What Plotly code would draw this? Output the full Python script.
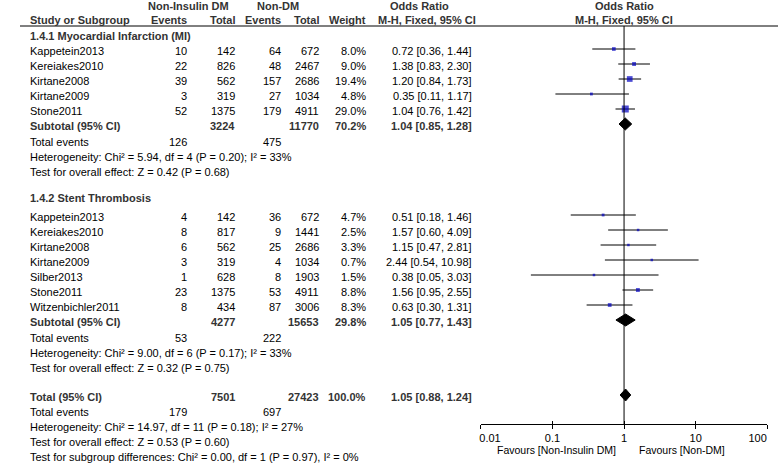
import math
import plotly.graph_objects as go

# ---------------- data ----------------
mi_studies = ["Kappetein2013", "Kereiakes2010", "Kirtane2008", "Kirtane2009", "Stone2011"]
mi_ev_ni = [10, 22, 39, 3, 52]
mi_tot_ni = [142, 826, 562, 319, 1375]
mi_ev_nd = [64, 48, 157, 27, 179]
mi_tot_nd = [672, 2467, 2686, 1034, 4911]
mi_weight = [8.0, 9.0, 19.4, 4.8, 29.0]
mi_or = [0.72, 1.38, 1.20, 0.35, 1.04]
mi_lo = [0.36, 0.83, 0.84, 0.11, 0.76]
mi_hi = [1.44, 2.30, 1.73, 1.17, 1.42]
mi_sub_totals = [3224, 11770]
mi_sub_weight = 70.2
mi_sub_or = [1.04, 0.85, 1.28]
mi_events = [126, 475]
mi_het = "Heterogeneity: Chi² = 5.94, df = 4 (P = 0.20); I² = 33%"
mi_test = "Test for overall effect: Z = 0.42 (P = 0.68)"

st_studies = ["Kappetein2013", "Kereiakes2010", "Kirtane2008", "Kirtane2009",
              "Silber2013", "Stone2011", "Witzenbichler2011"]
st_ev_ni = [4, 8, 6, 3, 1, 23, 8]
st_tot_ni = [142, 817, 562, 319, 628, 1375, 434]
st_ev_nd = [36, 9, 25, 4, 8, 53, 87]
st_tot_nd = [672, 1441, 2686, 1034, 1903, 4911, 3006]
st_weight = [4.7, 2.5, 3.3, 0.7, 1.5, 8.8, 8.3]
st_or = [0.51, 1.57, 1.15, 2.44, 0.38, 1.56, 0.63]
st_lo = [0.18, 0.60, 0.47, 0.54, 0.05, 0.95, 0.30]
st_hi = [1.46, 4.09, 2.81, 10.98, 3.03, 2.55, 1.31]
st_sub_totals = [4277, 15653]
st_sub_weight = 29.8
st_sub_or = [1.05, 0.77, 1.43]
st_events = [53, 222]
st_het = "Heterogeneity: Chi² = 9.00, df = 6 (P = 0.17); I² = 33%"
st_test = "Test for overall effect: Z = 0.32 (P = 0.75)"

tot_totals = [7501, 27423]
tot_weight = 100.0
tot_or = [1.05, 0.88, 1.24]
tot_events = [179, 697]
tot_het = "Heterogeneity: Chi² = 14.97, df = 11 (P = 0.18); I² = 27%"
tot_test = "Test for overall effect: Z = 0.53 (P = 0.60)"
tot_sub = "Test for subgroup differences: Chi² = 0.00, df = 1 (P = 0.97), I² = 0%"

tick_vals = [0.01, 0.1, 1, 10, 100]
tick_text = ["0.01", "0.1", "1", "10", "100"]
favours_left = "Favours [Non-Insulin DM]"
favours_right = "Favours [Non-DM]"

# ---------------- layout constants ----------------
W, H = 778, 465
FONT = "Liberation Sans, Arial, Helvetica, sans-serif"
BLUE = "#0000c0"
BOLD_C = "#333333"
X_NAME = 10
X_EV1, X_TOT1, X_EV2, X_TOT2, X_WT, X_OR = 171, 221, 268, 307, 355, 464
X_PLOT0, X_PLOT1 = 473, 767
AXIS_Y = 424
RULE_Y = 26
PITCH = 15
TXT_DY = 2

ann = []


def t(x, y, s, anchor="left", bold=False, color="black", size=11):
    if bold:
        s = f"<b>{s}</b>"
        color = BOLD_C
    ann.append(dict(x=x / W, y=y, xref="paper", yref="y", text=s, showarrow=False,
                    xanchor=anchor, yanchor="middle", borderpad=0, borderwidth=0,
                    font=dict(family=FONT, size=size, color=color)))


def fmt_or(v):
    return f"{v[0]:.2f} [{v[1]:.2f}, {v[2]:.2f}]"


fig = go.Figure()


def add_section(names, ev1, tot1, ev2, tot2, wts, ors, los, his, y0):
    ys = [y0 + PITCH * i for i in range(len(names))]
    for i, y in enumerate(ys):
        ty = y + TXT_DY
        t(X_NAME, ty, names[i])
        t(X_EV1, ty, str(ev1[i]), "right")
        t(X_TOT1, ty, str(tot1[i]), "right")
        t(X_EV2, ty, str(ev2[i]), "right")
        t(X_TOT2, ty, str(tot2[i]), "right")
        t(X_WT, ty, f"{wts[i]:.1f}%", "right")
        t(X_OR, ty, fmt_or([ors[i], los[i], his[i]]), "right")
    lx, ly = [], []
    for lo, hi, y in zip(los, his, ys):
        lx += [lo, hi, None]
        ly += [y, y, None]
    fig.add_trace(go.Scatter(x=lx, y=ly, mode="lines", line=dict(color="black", width=1),
                             hoverinfo="skip", showlegend=False))
    fig.add_trace(go.Scatter(x=ors, y=ys, mode="markers",
                             marker=dict(symbol="square", color=BLUE,
                                         size=[max(2.5, 1.3 * math.sqrt(w)) for w in wts],
                                         line=dict(width=0)),
                             hoverinfo="skip", showlegend=False))
    return ys[-1]


def add_diamond(v, y, h=6):
    fig.add_trace(go.Scatter(x=[v[1], v[0], v[2], v[0], v[1]], y=[y, y - h, y, y + h, y],
                             mode="lines", fill="toself", fillcolor="black",
                             line=dict(color="black", width=1), hoverinfo="skip", showlegend=False))


def add_summary(label, totals, weight, orv, y):
    ty = y + TXT_DY
    t(X_NAME, ty, label, bold=True)
    t(X_TOT1, ty, str(totals[0]), "right", bold=True)
    t(X_TOT2, ty, str(totals[1]), "right", bold=True)
    t(X_WT, ty, f"{weight:.1f}%", "right", bold=True)
    t(X_OR, ty, fmt_or(orv), "right", bold=True)
    add_diamond(orv, y)


def add_events(ev, y):
    t(X_NAME, y, "Total events")
    t(X_EV1, y, str(ev[0]), "right")
    t(X_EV2, y, str(ev[1]), "right")


x_one = X_PLOT0 + (X_PLOT1 - X_PLOT0) * (0 - math.log10(tick_vals[0])) / (
    math.log10(tick_vals[-1]) - math.log10(tick_vals[0]))

# headers
t(173, 6, "Non-Insulin DM", "center", bold=True)
t(265, 6, "Non-DM", "center", bold=True)
t(410, 6, "Odds Ratio", "center", bold=True)
t(x_one, 6, "Odds Ratio", "center", bold=True)
t(X_NAME, 20, "Study or Subgroup", bold=True)
t(X_EV1, 20, "Events", "right", bold=True)
t(X_TOT1, 20, "Total", "right", bold=True)
t(X_EV2, 20, "Events", "right", bold=True)
t(X_TOT2, 20, "Total", "right", bold=True)
t(X_WT, 20, "Weight", "right", bold=True)
t(418, 20, "M-H, Fixed, 95% CI", "center", bold=True)
t(x_one, 20, "M-H, Fixed, 95% CI", "center", bold=True)

# section 1
t(X_NAME, 36, "1.4.1 Myocardial Infarction (MI)", bold=True)
last = add_section(mi_studies, mi_ev_ni, mi_tot_ni, mi_ev_nd, mi_tot_nd, mi_weight,
                   mi_or, mi_lo, mi_hi, 49)
y = last + PITCH
add_summary("Subtotal (95% CI)", mi_sub_totals, mi_sub_weight, mi_sub_or, y)
add_events(mi_events, y + 18)
t(X_NAME, y + 33, mi_het)
t(X_NAME, y + 48, mi_test)

# section 2
t(X_NAME, 198, "1.4.2 Stent Thrombosis", bold=True)
last = add_section(st_studies, st_ev_ni, st_tot_ni, st_ev_nd, st_tot_nd, st_weight,
                   st_or, st_lo, st_hi, 215)
y = last + PITCH
add_summary("Subtotal (95% CI)", st_sub_totals, st_sub_weight, st_sub_or, y)
add_events(st_events, y + 18)
t(X_NAME, y + 33, st_het)
t(X_NAME, y + 48, st_test)

# overall
y = 395
add_summary("Total (95% CI)", tot_totals, tot_weight, tot_or, y)
add_events(tot_events, y + 17)
t(X_NAME, y + 32, tot_het)
t(X_NAME, y + 47, tot_test)
t(X_NAME, y + 62, tot_sub)

# favours
t(x_one - 8, 450, favours_left, "right", size=10.5)
t(x_one + 15, 450, favours_right, "left", size=10.5)

# invisible traces so the overlay axes are drawn
for ax in ("x2", "x3"):
    fig.add_trace(go.Scatter(x=[1], y=[-100], xaxis=ax, yaxis="y", mode="markers",
                             marker=dict(opacity=0), hoverinfo="skip", showlegend=False))

# main axis labels: all but the last (first one nudged right of its tick)
tt_main = list(tick_text)
tt_main[0] = "\u00a0" * 6 + tt_main[0]
tt_main[-1] = ""
# overlay axis: only the last label, placed left of its tick
tt_end = [""] * (len(tick_text) - 1) + [tick_text[-1]]

dom = [X_PLOT0 / W, X_PLOT1 / W]
pos = 1 - AXIS_Y / H
common = dict(type="log", range=[-2, 2], domain=dom, anchor="free", position=pos,
              showgrid=False, zeroline=False, fixedrange=True, tickvals=tick_vals,
              tickwidth=1, tickcolor="black",
              tickfont=dict(family=FONT, size=11, color="black"))
fig.update_layout(
    width=W, height=H, autosize=False,
    margin=dict(l=0, r=0, t=0, b=0, pad=0),
    paper_bgcolor="white", plot_bgcolor="white",
    showlegend=False,
    xaxis=dict(**common, showline=True, linecolor="black", linewidth=1,
               ticks="outside", ticklen=4, ticktext=tt_main),
    xaxis2=dict(**common, overlaying="x", matches="x", showline=False,
                ticks="outside", ticklen=4, ticktext=tt_end,
                ticklabelposition="outside left", ticklabelstandoff=4),
    xaxis3=dict(**common, overlaying="x", matches="x", showline=False,
                ticks="inside", ticklen=3, showticklabels=False),
    yaxis=dict(range=[H, 0], domain=[0, 1], visible=False, fixedrange=True),
    annotations=ann,
    shapes=[
        dict(type="line", xref="paper", yref="y", x0=0, x1=1, y0=RULE_Y, y1=RULE_Y,
             line=dict(color="black", width=1)),
        dict(type="line", xref="x", yref="y", x0=1, x1=1, y0=RULE_Y, y1=AXIS_Y,
             line=dict(color="black", width=1)),
    ],
)

fig.write_html("out.html",
               post_script="document.documentElement.style.margin='0';document.body.style.margin='0';document.documentElement.style.overflow='hidden';document.body.style.overflow='hidden';",
               config={"displayModeBar": False, "staticPlot": True, "responsive": False})
